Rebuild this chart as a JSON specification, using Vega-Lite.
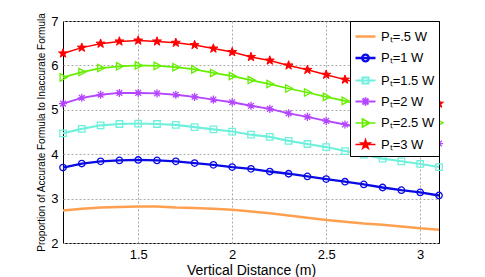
{
  "$schema": "https://vega.github.io/schema/vega-lite/v6.json",
  "width": 376,
  "height": 222,
  "autosize": {"type": "none"},
  "padding": {"left": 63, "top": 21, "right": 46, "bottom": 34},
  "config": {
    "font": "Liberation Sans",
    "view": {"stroke": "black", "strokeWidth": 1},
    "axis": {
      "domain": false,
      "ticks": false,
      "labelFontSize": 13,
      "labelColor": "black",
      "titleFontWeight": "normal",
      "titleColor": "black",
      "gridColor": "#aaaaaa",
      "gridDash": [2, 2]
    }
  },
  "data": {
    "values": [
      {"x": 1.1, "s": "Pₜ=.5 W", "y": 2.73}, {"x": 1.2, "s": "Pₜ=.5 W", "y": 2.77}, {"x": 1.3, "s": "Pₜ=.5 W", "y": 2.80}, {"x": 1.4, "s": "Pₜ=.5 W", "y": 2.81}, {"x": 1.5, "s": "Pₜ=.5 W", "y": 2.82}, {"x": 1.6, "s": "Pₜ=.5 W", "y": 2.82}, {"x": 1.7, "s": "Pₜ=.5 W", "y": 2.80}, {"x": 1.8, "s": "Pₜ=.5 W", "y": 2.79}, {"x": 1.9, "s": "Pₜ=.5 W", "y": 2.77}, {"x": 2.0, "s": "Pₜ=.5 W", "y": 2.75}, {"x": 2.1, "s": "Pₜ=.5 W", "y": 2.71}, {"x": 2.2, "s": "Pₜ=.5 W", "y": 2.67}, {"x": 2.3, "s": "Pₜ=.5 W", "y": 2.62}, {"x": 2.4, "s": "Pₜ=.5 W", "y": 2.57}, {"x": 2.5, "s": "Pₜ=.5 W", "y": 2.52}, {"x": 2.6, "s": "Pₜ=.5 W", "y": 2.48}, {"x": 2.7, "s": "Pₜ=.5 W", "y": 2.44}, {"x": 2.8, "s": "Pₜ=.5 W", "y": 2.41}, {"x": 2.9, "s": "Pₜ=.5 W", "y": 2.37}, {"x": 3.0, "s": "Pₜ=.5 W", "y": 2.33}, {"x": 3.1, "s": "Pₜ=.5 W", "y": 2.30},
      {"x": 1.1, "s": "Pₜ=1 W", "y": 3.70}, {"x": 1.2, "s": "Pₜ=1 W", "y": 3.79}, {"x": 1.3, "s": "Pₜ=1 W", "y": 3.84}, {"x": 1.4, "s": "Pₜ=1 W", "y": 3.86}, {"x": 1.5, "s": "Pₜ=1 W", "y": 3.87}, {"x": 1.6, "s": "Pₜ=1 W", "y": 3.86}, {"x": 1.7, "s": "Pₜ=1 W", "y": 3.84}, {"x": 1.8, "s": "Pₜ=1 W", "y": 3.80}, {"x": 1.9, "s": "Pₜ=1 W", "y": 3.76}, {"x": 2.0, "s": "Pₜ=1 W", "y": 3.71}, {"x": 2.1, "s": "Pₜ=1 W", "y": 3.67}, {"x": 2.2, "s": "Pₜ=1 W", "y": 3.61}, {"x": 2.3, "s": "Pₜ=1 W", "y": 3.56}, {"x": 2.4, "s": "Pₜ=1 W", "y": 3.50}, {"x": 2.5, "s": "Pₜ=1 W", "y": 3.44}, {"x": 2.6, "s": "Pₜ=1 W", "y": 3.38}, {"x": 2.7, "s": "Pₜ=1 W", "y": 3.32}, {"x": 2.8, "s": "Pₜ=1 W", "y": 3.25}, {"x": 2.9, "s": "Pₜ=1 W", "y": 3.19}, {"x": 3.0, "s": "Pₜ=1 W", "y": 3.14}, {"x": 3.1, "s": "Pₜ=1 W", "y": 3.07},
      {"x": 1.1, "s": "Pₜ=1.5 W", "y": 4.47}, {"x": 1.2, "s": "Pₜ=1.5 W", "y": 4.57}, {"x": 1.3, "s": "Pₜ=1.5 W", "y": 4.65}, {"x": 1.4, "s": "Pₜ=1.5 W", "y": 4.68}, {"x": 1.5, "s": "Pₜ=1.5 W", "y": 4.69}, {"x": 1.6, "s": "Pₜ=1.5 W", "y": 4.68}, {"x": 1.7, "s": "Pₜ=1.5 W", "y": 4.66}, {"x": 1.8, "s": "Pₜ=1.5 W", "y": 4.61}, {"x": 1.9, "s": "Pₜ=1.5 W", "y": 4.56}, {"x": 2.0, "s": "Pₜ=1.5 W", "y": 4.51}, {"x": 2.1, "s": "Pₜ=1.5 W", "y": 4.44}, {"x": 2.2, "s": "Pₜ=1.5 W", "y": 4.39}, {"x": 2.3, "s": "Pₜ=1.5 W", "y": 4.30}, {"x": 2.4, "s": "Pₜ=1.5 W", "y": 4.23}, {"x": 2.5, "s": "Pₜ=1.5 W", "y": 4.16}, {"x": 2.6, "s": "Pₜ=1.5 W", "y": 4.07}, {"x": 2.7, "s": "Pₜ=1.5 W", "y": 3.99}, {"x": 2.8, "s": "Pₜ=1.5 W", "y": 3.90}, {"x": 2.9, "s": "Pₜ=1.5 W", "y": 3.84}, {"x": 3.0, "s": "Pₜ=1.5 W", "y": 3.78}, {"x": 3.1, "s": "Pₜ=1.5 W", "y": 3.71},
      {"x": 1.1, "s": "Pₜ=2 W", "y": 5.14}, {"x": 1.2, "s": "Pₜ=2 W", "y": 5.27}, {"x": 1.3, "s": "Pₜ=2 W", "y": 5.34}, {"x": 1.4, "s": "Pₜ=2 W", "y": 5.38}, {"x": 1.5, "s": "Pₜ=2 W", "y": 5.38}, {"x": 1.6, "s": "Pₜ=2 W", "y": 5.37}, {"x": 1.7, "s": "Pₜ=2 W", "y": 5.34}, {"x": 1.8, "s": "Pₜ=2 W", "y": 5.29}, {"x": 1.9, "s": "Pₜ=2 W", "y": 5.23}, {"x": 2.0, "s": "Pₜ=2 W", "y": 5.17}, {"x": 2.1, "s": "Pₜ=2 W", "y": 5.09}, {"x": 2.2, "s": "Pₜ=2 W", "y": 5.02}, {"x": 2.3, "s": "Pₜ=2 W", "y": 4.92}, {"x": 2.4, "s": "Pₜ=2 W", "y": 4.84}, {"x": 2.5, "s": "Pₜ=2 W", "y": 4.75}, {"x": 2.6, "s": "Pₜ=2 W", "y": 4.67}, {"x": 2.7, "s": "Pₜ=2 W", "y": 4.58}, {"x": 2.8, "s": "Pₜ=2 W", "y": 4.50}, {"x": 2.9, "s": "Pₜ=2 W", "y": 4.41}, {"x": 3.0, "s": "Pₜ=2 W", "y": 4.33}, {"x": 3.1, "s": "Pₜ=2 W", "y": 4.24},
      {"x": 1.1, "s": "Pₜ=2.5 W", "y": 5.73}, {"x": 1.2, "s": "Pₜ=2.5 W", "y": 5.85}, {"x": 1.3, "s": "Pₜ=2.5 W", "y": 5.94}, {"x": 1.4, "s": "Pₜ=2.5 W", "y": 5.98}, {"x": 1.5, "s": "Pₜ=2.5 W", "y": 6.00}, {"x": 1.6, "s": "Pₜ=2.5 W", "y": 5.99}, {"x": 1.7, "s": "Pₜ=2.5 W", "y": 5.96}, {"x": 1.8, "s": "Pₜ=2.5 W", "y": 5.91}, {"x": 1.9, "s": "Pₜ=2.5 W", "y": 5.83}, {"x": 2.0, "s": "Pₜ=2.5 W", "y": 5.76}, {"x": 2.1, "s": "Pₜ=2.5 W", "y": 5.67}, {"x": 2.2, "s": "Pₜ=2.5 W", "y": 5.58}, {"x": 2.3, "s": "Pₜ=2.5 W", "y": 5.48}, {"x": 2.4, "s": "Pₜ=2.5 W", "y": 5.39}, {"x": 2.5, "s": "Pₜ=2.5 W", "y": 5.29}, {"x": 2.6, "s": "Pₜ=2.5 W", "y": 5.20}, {"x": 2.7, "s": "Pₜ=2.5 W", "y": 5.10}, {"x": 2.8, "s": "Pₜ=2.5 W", "y": 5.00}, {"x": 2.9, "s": "Pₜ=2.5 W", "y": 4.90}, {"x": 3.0, "s": "Pₜ=2.5 W", "y": 4.81}, {"x": 3.1, "s": "Pₜ=2.5 W", "y": 4.71},
      {"x": 1.1, "s": "Pₜ=3 W", "y": 6.27}, {"x": 1.2, "s": "Pₜ=3 W", "y": 6.40}, {"x": 1.3, "s": "Pₜ=3 W", "y": 6.49}, {"x": 1.4, "s": "Pₜ=3 W", "y": 6.54}, {"x": 1.5, "s": "Pₜ=3 W", "y": 6.56}, {"x": 1.6, "s": "Pₜ=3 W", "y": 6.54}, {"x": 1.7, "s": "Pₜ=3 W", "y": 6.51}, {"x": 1.8, "s": "Pₜ=3 W", "y": 6.46}, {"x": 1.9, "s": "Pₜ=3 W", "y": 6.38}, {"x": 2.0, "s": "Pₜ=3 W", "y": 6.30}, {"x": 2.1, "s": "Pₜ=3 W", "y": 6.19}, {"x": 2.2, "s": "Pₜ=3 W", "y": 6.11}, {"x": 2.3, "s": "Pₜ=3 W", "y": 6.00}, {"x": 2.4, "s": "Pₜ=3 W", "y": 5.90}, {"x": 2.5, "s": "Pₜ=3 W", "y": 5.79}, {"x": 2.6, "s": "Pₜ=3 W", "y": 5.68}, {"x": 2.7, "s": "Pₜ=3 W", "y": 5.57}, {"x": 2.8, "s": "Pₜ=3 W", "y": 5.46}, {"x": 2.9, "s": "Pₜ=3 W", "y": 5.35}, {"x": 3.0, "s": "Pₜ=3 W", "y": 5.25}, {"x": 3.1, "s": "Pₜ=3 W", "y": 5.14}
    ]
  },
  "encoding": {
    "x": {
      "field": "x",
      "type": "quantitative",
      "title": "Vertical Distance (m)",
      "scale": {"domain": [1.1, 3.1], "nice": false, "zero": false},
      "axis": {"values": [1.5, 2, 2.5, 3], "format": "~g", "titleFontSize": 14, "titlePadding": 2, "labelPadding": 5, "labelFlush": false}
    },
    "y": {
      "field": "y",
      "type": "quantitative",
      "title": "Proportion of Accurate Formula to Inaccurate Formula",
      "scale": {"domain": [2, 7], "nice": false, "zero": false},
      "axis": {"values": [2, 3, 4, 5, 6, 7], "titleFontSize": 10, "titlePadding": 4, "labelPadding": 5, "labelFlush": false}
    }
  },
  "layer": [
    {
      "mark": {"type": "line"},
      "encoding": {
        "color": {
          "field": "s",
          "type": "nominal",
          "scale": {"domain": ["Pₜ=.5 W", "Pₜ=1 W", "Pₜ=1.5 W", "Pₜ=2 W", "Pₜ=2.5 W", "Pₜ=3 W"], "range": ["#ffa050", "#0a0ae6", "#70f0dc", "#b446ff", "#66ee00", "#ff0000"]},
          "legend": {
            "title": null,
            "orient": "top-right",
            "offset": 0,
            "fillColor": "white",
            "strokeColor": "black",
            "padding": 4,
            "symbolSize": 400,
            "symbolStrokeWidth": 1.5,
            "labelFontSize": 13,
            "labelColor": "black",
            "labelOffset": 4,
            "rowPadding": 2.5,
            "encode": {
              "symbols": {
                "update": {
                  "size": {"value": 400},
                  "fill": {"signal": "datum.value === 'Pₜ=3 W' ? '#ff0000' : 'transparent'"},
                  "shape": {"signal": "datum.value === 'Pₜ=.5 W' ? 'M-1,0H1' : datum.value === 'Pₜ=1 W' ? 'M-1,0H1M0.33,0A0.33,0.33,0,1,1,-0.33,0A0.33,0.33,0,1,1,0.33,0Z' : datum.value === 'Pₜ=1.5 W' ? 'M-1,0H1M-0.3,-0.3H0.3V0.3H-0.3Z' : datum.value === 'Pₜ=2 W' ? 'M-1,0H1M0,-0.42V0.42M-0.3,-0.3L0.3,0.3M-0.3,0.3L0.3,-0.3' : datum.value === 'Pₜ=2.5 W' ? 'M-1,0H1M-0.3,-0.4L0.42,0L-0.3,0.4Z' : 'M-1,0H1M0,-0.48L0.11,-0.16L0.46,-0.15L0.18,0.06L0.28,0.39L0,0.19L-0.28,0.39L-0.18,0.06L-0.46,-0.15L-0.11,-0.16Z'"}
                }
              }
            }
          }
        },
        "strokeWidth": {
          "field": "s",
          "type": "nominal",
          "scale": {"domain": ["Pₜ=.5 W", "Pₜ=1 W", "Pₜ=1.5 W", "Pₜ=2 W", "Pₜ=2.5 W", "Pₜ=3 W"], "range": [2.5, 1.5, 1.5, 1.5, 1.5, 1.5]},
          "legend": null
        }
      }
    },
    {
      "transform": [{"filter": "datum.s == 'Pₜ=1 W'"}],
      "mark": {"type": "point", "shape": "circle", "filled": false, "stroke": "#0a0ae6", "size": 42, "strokeWidth": 1.3, "opacity": 1},
      "encoding": {}
    },
    {
      "transform": [{"filter": "datum.s == 'Pₜ=1.5 W'"}],
      "mark": {"type": "point", "shape": "square", "filled": false, "stroke": "#70f0dc", "size": 42, "strokeWidth": 1.3, "opacity": 1},
      "encoding": {}
    },
    {
      "transform": [{"filter": "datum.s == 'Pₜ=2 W'"}],
      "mark": {"type": "point", "shape": "M0,-1.25V1.25M-1.25,0H1.25M-0.88,-0.88L0.88,0.88M-0.88,0.88L0.88,-0.88", "filled": false, "stroke": "#b446ff", "size": 42, "strokeWidth": 1.3, "opacity": 1},
      "encoding": {}
    },
    {
      "transform": [{"filter": "datum.s == 'Pₜ=2.5 W'"}],
      "mark": {"type": "point", "shape": "M-0.9,-1.15L1.25,0L-0.9,1.15Z", "filled": false, "stroke": "#66ee00", "size": 42, "strokeWidth": 1.3, "opacity": 1},
      "encoding": {}
    },
    {
      "transform": [{"filter": "datum.s == 'Pₜ=3 W'"}],
      "mark": {"type": "point", "shape": "M0,-1.45L0.34,-0.47L1.38,-0.45L0.55,0.18L0.85,1.17L0,0.58L-0.85,1.17L-0.55,0.18L-1.38,-0.45L-0.34,-0.47Z", "filled": true, "fill": "#ff0000", "stroke": "#ff0000", "size": 42, "strokeWidth": 1, "opacity": 1},
      "encoding": {}
    }
  ]
}
